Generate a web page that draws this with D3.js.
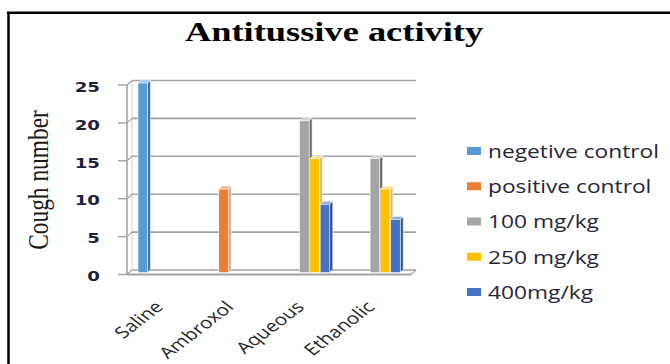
<!DOCTYPE html>
<html><head><meta charset="utf-8">
<script src="https://cdn.jsdelivr.net/npm/d3@7"></script>
<style>html,body{margin:0;padding:0;background:#fff;}svg{display:block;}</style>
</head><body>
<svg id="chart" width="670" height="364"></svg>
<script>
const categories = ["Saline", "Ambroxol", "Aqueous", "Ethanolic"];
const seriesNames = ["negetive control", "positive control", "100 mg/kg", "250 mg/kg", "400mg/kg"];
const negativeControl = [25, 0, 0, 0];
const positiveControl = [0, 11, 0, 0];
const dose100 = [0, 0, 20, 15];
const dose250 = [0, 0, 15, 11];
const dose400 = [0, 0, 9, 7];
const yTicks = [0, 5, 10, 15, 20, 25];
const titleText = "Antitussive activity";
const yTitle = "Cough number";

const seriesValues = [negativeControl, positiveControl, dose100, dose250, dose400];
const frontColors = ["#5b9bd5", "#ed7d31", "#a5a5a5", "#ffc000", "#4472c4"];
const sideColors  = ["#3e75a8", "#d9ab8c", "#6f6f6f", "#dcc07a", "#2f528f"];
const topColors   = ["#9cc3e6", "#f4b183", "#d0d0d0", "#ffe08a", "#8faadc"];

const SX = 1.3; // horizontal stretch of the picture
const svg = d3.select("#chart");

// frame
svg.append("line").attr("x1", 8.5).attr("x2", 8.5).attr("y1", 12).attr("y2", 364)
  .attr("stroke", "#000").attr("stroke-width", 2.5);
svg.append("line").attr("x1", 7).attr("x2", 670).attr("y1", 12.8).attr("y2", 12.8)
  .attr("stroke", "#000").attr("stroke-width", 2.5);

// geometry
const backL = 132, backR = 416, depthX = 5, depthY = 4.5;
const yBack = d3.scaleLinear().domain([0, 25]).range([270, 80.5]);
const x0 = d3.scaleBand().domain(categories).range([128.5, 410.5]).paddingInner(0).paddingOuter(0);
const x1 = d3.scaleBand().domain(seriesNames).range([0, x0.bandwidth()]).paddingInner(0).paddingOuter(0.92);

const gridColor = "#a3a3a3";
const g = svg.append("g");
g.append("line").attr("x1", backL).attr("x2", backL).attr("y1", yBack(25)).attr("y2", yBack(0))
  .attr("stroke", "#d0d0d0").attr("stroke-width", 1);
yTicks.forEach(t => {
  const yb = yBack(t), yf = yBack(t) + depthY;
  if (t > 0) {
    g.append("line").attr("x1", backL).attr("x2", backR).attr("y1", yb).attr("y2", yb)
      .attr("stroke", gridColor).attr("stroke-width", 1.6);
    g.append("line").attr("x1", backL - depthX).attr("x2", backL).attr("y1", yf).attr("y2", yb)
      .attr("stroke", gridColor).attr("stroke-width", 1.2);
  }
  g.append("line").attr("x1", 118).attr("x2", backL - depthX).attr("y1", yf).attr("y2", yf)
    .attr("stroke", gridColor).attr("stroke-width", 1.4);
});
g.append("line").attr("x1", backL - depthX).attr("x2", backL - depthX)
  .attr("y1", yBack(25) + depthY).attr("y2", yBack(0) + depthY)
  .attr("stroke", gridColor).attr("stroke-width", 1.6);
g.append("line").attr("x1", backL).attr("x2", backR).attr("y1", yBack(0)).attr("y2", yBack(0))
  .attr("stroke", gridColor).attr("stroke-width", 1.6);
g.append("line").attr("x1", backL - depthX).attr("x2", backR - depthX).attr("y1", yBack(0) + depthY).attr("y2", yBack(0) + depthY)
  .attr("stroke", gridColor).attr("stroke-width", 1.8);
g.append("line").attr("x1", backL - depthX).attr("x2", backL).attr("y1", yBack(0) + depthY).attr("y2", yBack(0))
  .attr("stroke", gridColor).attr("stroke-width", 1.2);
g.append("line").attr("x1", backR - depthX).attr("x2", backR).attr("y1", yBack(0) + depthY).attr("y2", yBack(0))
  .attr("stroke", gridColor).attr("stroke-width", 1.2);

// y tick labels
svg.append("g").selectAll("text").data(yTicks).join("text")
  .attr("transform", d => `translate(100,${yBack(d) + depthY + 2}) scale(${SX},1)`)
  .attr("text-anchor", "end").attr("dominant-baseline", "central")
  .attr("font-family", "DejaVu Sans").attr("font-size", 14).attr("font-weight", "bold")
  .attr("fill", "#1f1f3a").text(d => d);

// bars (3D)
const bd = 3;
const bw = x1.bandwidth() - 0.8;
const yBar = v => yBack(v) + 2.5;
const barsG = svg.append("g");
categories.forEach((c, ci) => {
  seriesNames.forEach((s, si) => {
    const v = seriesValues[si][ci];
    if (!v) return;
    const x = x0(c) + x1(s);
    const yt = yBar(v), yb = yBar(0);
    barsG.append("polygon")
      .attr("points", `${x + bw},${yt} ${x + bw + bd},${yt - bd} ${x + bw + bd},${yb - bd} ${x + bw},${yb}`)
      .attr("fill", sideColors[si]).attr("stroke", "#fff").attr("stroke-width", 0.5);
    barsG.append("polygon")
      .attr("points", `${x},${yt} ${x + bd},${yt - bd} ${x + bw + bd},${yt - bd} ${x + bw},${yt}`)
      .attr("fill", topColors[si]).attr("stroke", "#fff").attr("stroke-width", 0.5);
    barsG.append("rect").attr("x", x).attr("y", yt).attr("width", bw).attr("height", yb - yt)
      .attr("fill", frontColors[si]).attr("stroke", "#fff").attr("stroke-width", 0.5);
  });
});

// category labels
svg.append("g").selectAll("text").data(categories).join("text")
  .attr("transform", d => `translate(${x0(d) + x0.bandwidth() / 2 + 0.5},308) scale(${SX},1) rotate(-45)`)
  .attr("text-anchor", "end")
  .attr("font-family", "Open Sans").attr("font-size", 16)
  .attr("fill", "#262626").text(d => d);

// title
svg.append("text")
  .attr("transform", `translate(334,41) scale(${SX},1)`)
  .attr("text-anchor", "middle")
  .attr("font-family", "Liberation Serif").attr("font-weight", "bold").attr("font-size", 28)
  .attr("fill", "#000").text(titleText);

// y title
svg.append("text")
  .attr("transform", `translate(47.5,180) scale(${SX},1) rotate(-90)`)
  .attr("text-anchor", "middle")
  .attr("font-family", "Liberation Serif").attr("font-size", 23.4)
  .attr("fill", "#1a1a1a").text(yTitle);

// legend
const ly = d3.scalePoint().domain(seriesNames).range([151, 292]);
const leg = svg.append("g");
leg.selectAll("rect").data(seriesNames).join("rect")
  .attr("x", 467).attr("y", d => ly(d) - 4).attr("width", 14).attr("height", 8)
  .attr("fill", (d, i) => frontColors[i]);
leg.selectAll("text").data(seriesNames).join("text")
  .attr("transform", d => `translate(488,${ly(d)}) scale(${SX},1)`)
  .attr("dominant-baseline", "central")
  .attr("font-family", "Open Sans").attr("font-size", 17.5)
  .attr("fill", "#262638").text(d => d);
</script>
</body></html>
